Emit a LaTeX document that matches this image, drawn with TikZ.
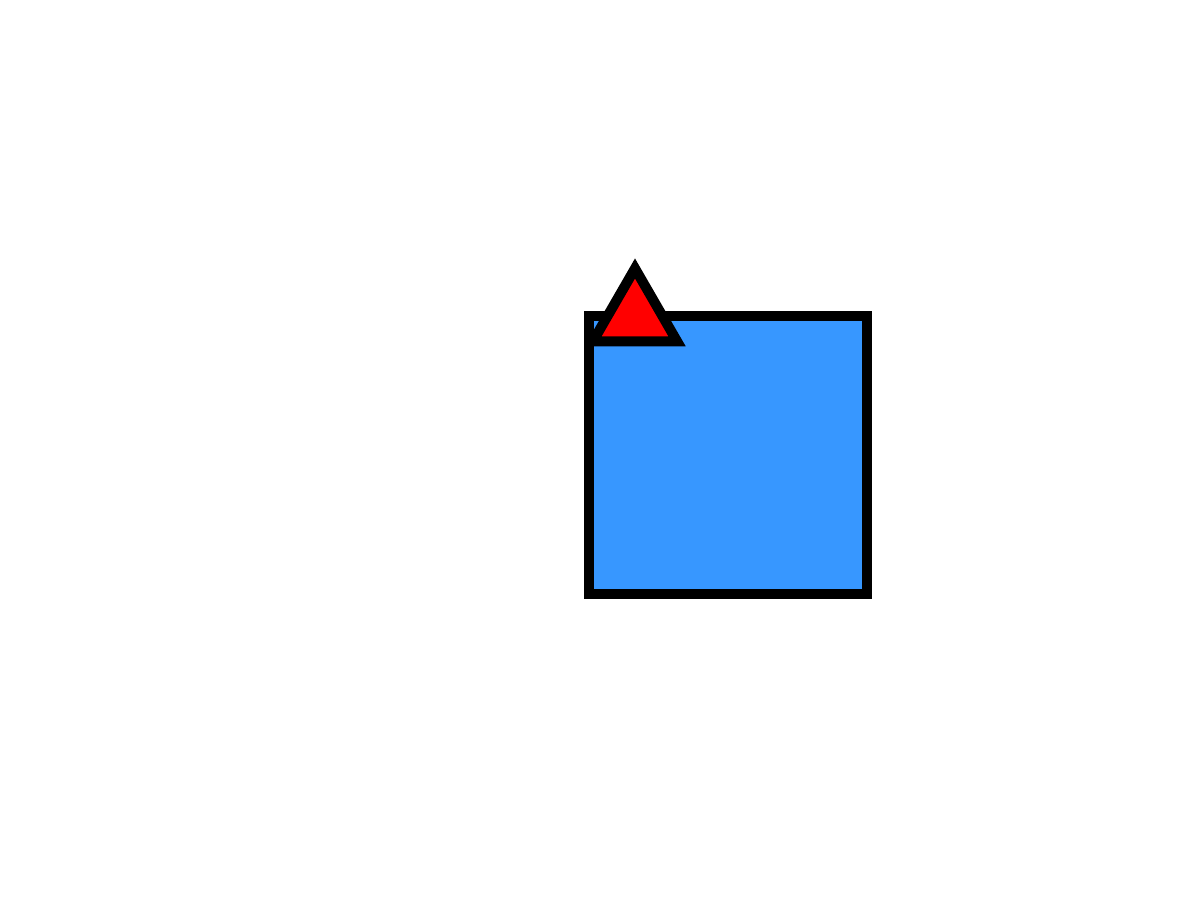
\documentclass[tikz,border=0pt]{standalone}
\usepackage{xcolor}
\usepackage{tikz}
\usetikzlibrary{shapes.geometric, positioning}
\definecolor{myblue}{RGB}{55,151,255}
\definecolor{myred}{RGB}{255,0,0}
\tikzset{
  sqblock/.style={rectangle, draw=black, fill=myblue,
    minimum size=2.78cm, inner sep=0pt, line width=2.85pt},
  trimark/.style={regular polygon, regular polygon sides=3, draw=black, fill=myred,
    minimum size=0.97cm, inner sep=0pt, line width=2.85pt}
}

\begin{document}
\begin{tikzpicture}[x=0.01cm, y=-0.01cm]
  \useasboundingbox (0,0) rectangle (1200,900);

  \node[sqblock] (sq) at (728,455) {};
  \node[trimark] (tri) at (635,317) {};
\end{tikzpicture}
\end{document}
